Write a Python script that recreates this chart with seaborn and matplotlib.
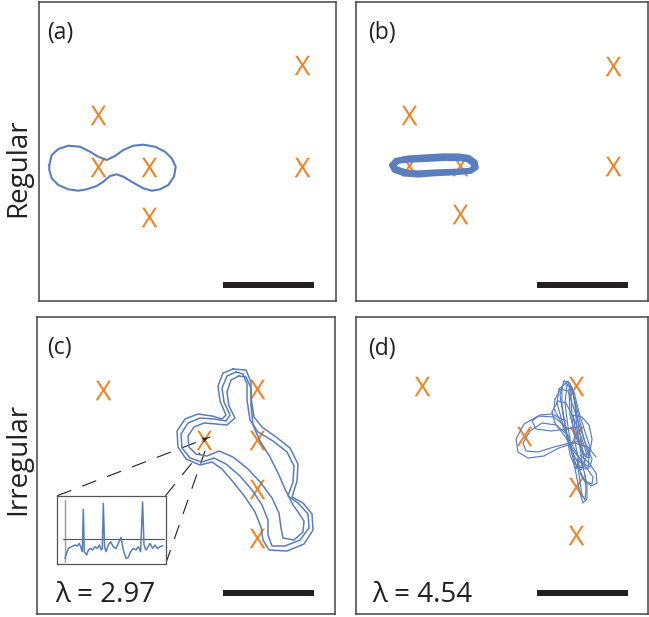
'''
orbits of a particle among fixed X sites: regular vs irregular panels
'''
import numpy as np
import pandas as pd
import seaborn as sns
import matplotlib.pyplot as plt

sns.set_theme(style='white')
plt.rcParams['font.family'] = ['Open Sans', 'DejaVu Sans']
plt.rcParams['mathtext.fontset'] = 'custom'
plt.rcParams['mathtext.sf'] = 'Open Sans'

blue = '#5A7DBE'
orange = '#F4821F'
ink = '#231F20'

# ---- data: pixel units inside each panel, y counted down from the top edge
marks_a = [(262.7, 63), (59, 113), (59, 164.7), (110, 164.7), (110, 214.7), (262.7, 164.7)]
marks_b = [(257.3, 64), (53, 113), (53, 163.7), (104, 163.7), (104, 212), (257.3, 163.7)]
marks_c = [(66.3, 73), (219.7, 72), (167.3, 123), (219.7, 123), (219.7, 172), (219.7, 220.7)]
marks_d = [(65.7, 68.7), (219.7, 68.7), (168.3, 119), (219.7, 119), (219.7, 169.7), (219.7, 218)]

orbit_a = [(10.3, 163), (12.7, 153), (19.3, 147), (29.3, 143.7), (41, 144.7), (51, 149.7),
           (59.3, 154.7), (67.7, 158), (76, 154), (84.3, 148), (94.3, 143.7), (104.3, 142.7),
           (116, 144.7), (126, 149.7), (132.7, 156.3), (136.7, 164.7), (135, 174.7), (129.3, 183),
           (121, 187.3), (112.7, 188.7), (104.3, 186.3), (94.3, 180.7), (84.3, 174.7), (77.7, 172.3),
           (71, 174), (64.3, 179.7), (57.7, 184), (47.7, 187.3), (39.3, 188.7), (29.3, 187.3),
           (19.3, 183), (12.7, 176.3), (10.3, 168), (10.3, 163)]

orbits_b = [
    [(34.5, 163), (39.5, 157.5), (52, 155), (69, 154), (85.7, 153), (102.3, 153), (113, 154.5),
     (120, 159.5), (121.3, 166), (115, 170.3), (99, 171.7), (79, 172.7), (62.3, 174), (48.5, 173),
     (37.5, 169), (34.5, 163)],
    [(36.5, 163), (41, 158.5), (52.5, 157), (69, 156.3), (85.7, 155.3), (102.3, 155.3), (112, 156.5),
     (118, 160.5), (119, 166), (114, 169), (99, 170), (79, 171), (62.3, 172), (49.5, 171),
     (39, 167.5), (36.5, 163)],
    [(38.5, 163), (43, 160), (53.5, 159), (69, 158.5), (85.7, 157.5), (102.3, 157.5), (111, 158.5),
     (116, 162), (116.8, 166), (112.5, 167.5), (99, 168.3), (79, 169), (62.3, 170), (50.5, 169),
     (41, 166), (38.5, 163)],
]

orbits_c = [
    [(199, 55), (190, 59), (185, 71), (187, 85), (193, 98), (189, 104), (177, 102), (163, 101),
     (151, 106), (144, 117), (145, 131), (153, 141), (165, 145), (177, 141), (189, 147),
     (203, 159), (215, 173), (225, 188), (231, 203), (231, 218), (235, 229), (248, 229),
     (263, 223), (272, 211), (271, 197), (261, 186), (251, 179), (256, 165), (257, 149),
     (250, 135), (236, 124), (221, 115), (213, 103), (210, 83), (210, 67), (206, 57), (199, 55)],
    [(202, 59), (194, 63), (190, 75), (192, 89), (198, 101), (190, 108), (179, 107), (167, 106),
     (157, 110), (151, 119), (152, 130), (159, 137), (170, 139), (182, 134), (196, 140),
     (211, 152), (224, 166), (235, 181), (242, 196), (244, 211), (246, 221), (257, 223),
     (266, 215), (267, 204), (261, 195), (256, 188), (248, 172), (241, 156), (233, 140),
     (223, 124), (216, 108), (214, 88), (214, 71), (209, 60), (202, 59)],
    [(196, 52), (186, 56), (181, 69), (183, 84), (189, 98), (185, 102), (175, 99), (161, 97),
     (148, 102), (140, 114), (141, 130), (149, 142), (163, 148), (175, 145), (185, 152),
     (197, 166), (208, 180), (218, 195), (224, 210), (226, 223), (232, 233), (250, 234),
     (267, 227), (276, 213), (275, 197), (266, 186), (255, 180), (260, 164), (261, 147),
     (253, 131), (239, 120), (225, 110), (217, 100), (214, 81), (214, 65), (209, 53), (196, 52)],
]

orbits_d = [
    [(208, 64), (214, 66), (218, 80), (222, 105), (226, 130), (229, 148), (225, 153), (218, 145),
     (212, 122), (207, 98), (204, 78), (208, 64)],
    [(203, 72), (210, 66), (216, 72), (221, 92), (227, 118), (233, 140), (232, 152), (224, 150),
     (214, 130), (206, 104), (201, 86), (203, 72)],
    [(211, 68), (216, 70), (219, 88), (221, 112), (225, 136), (226, 150), (221, 151), (216, 134),
     (212, 110), (209, 86), (211, 68)],
    [(199, 82), (205, 72), (212, 74), (219, 95), (229, 125), (236, 142), (234, 150), (226, 146),
     (214, 124), (204, 103), (198, 92), (199, 82)],
    [(206, 70), (212, 64), (215, 76), (216, 100), (219, 125), (223, 145), (220, 152), (214, 138),
     (210, 112), (206, 88), (206, 70)],
    [(213, 72), (218, 75), (223, 95), (229, 115), (234, 130), (233, 141), (227, 138), (220, 120),
     (214, 98), (213, 72)],
    [(196, 95), (202, 84), (210, 86), (218, 102), (226, 122), (231, 138), (228, 146), (219, 136),
     (208, 118), (199, 106), (196, 95)],
    [(212, 112), (198, 100), (182, 99), (168, 107), (160, 122), (162, 135), (172, 141), (188, 139),
     (203, 131), (218, 126), (232, 130), (240, 140)],
    [(214, 120), (200, 108), (186, 106), (174, 114), (167, 126), (170, 134), (182, 135), (198, 130),
     (214, 126), (226, 124)],
    [(210, 104), (196, 97), (184, 98), (176, 104), (180, 112), (195, 114), (210, 112), (222, 110)],
    [(224, 138), (233, 146), (240, 156), (241, 166), (235, 169), (228, 162), (223, 152), (221, 142)],
    [(220, 142), (230, 150), (237, 160), (236, 167), (229, 165), (224, 156)],
    [(218, 146), (221, 162), (224, 176), (227, 186), (231, 182), (231, 168), (228, 154), (225, 145)],
    [(222, 150), (224, 165), (226, 178), (229, 183), (230, 172), (229, 158)],
    [(217, 98), (226, 100), (233, 108), (236, 122), (234, 135), (229, 138), (223, 126), (219, 110),
     (217, 98)],
]

# inset time trace (pixels inside the inset box)
trace_t = [7.7, 11, 14.3, 17.7, 20, 22, 23.3, 25, 26, 27, 29.3, 31, 33.3, 35.3, 37.7, 40, 42, 44, 45,
           46, 47.3, 48.7, 51, 53.3, 56, 58.7, 61, 63.7, 66, 68.7, 71, 73.3, 76, 78.7, 81, 83.3,
           85.3, 86.7, 88.7, 90, 92.7, 95.3, 97.7, 100, 102.7, 105.3]
trace_v = [62.7, 52.7, 51, 49.3, 50.3, 47.7, 51, 56, 13.7, 56, 59.3, 54.3, 52.7, 54.3, 51, 52.7,
           49.3, 54.3, 52.7, 7.7, 51, 56, 49.3, 46, 51, 52.7, 47.7, 41.7, 54.3, 62.7, 61.7, 56, 52.7,
           54.3, 51, 56, 6.3, 49.3, 54.3, 52.7, 47.7, 52.7, 49.3, 52.7, 51, 50]

labels = ['(a)', '(b)', '(c)', '(d)']
lyap = {'c': 'λ = 2.97', 'd': 'λ = 4.54'}
rows = ['Regular', 'Irregular']

W, H = 649, 617
boxes = {'a': (39, 2, 336, 301), 'b': (356, 2, 648, 301),
         'c': (37, 317, 335, 614), 'd': (356, 317, 648, 614)}
bars = {'a': (183.7, 275, 283), 'b': (180.7, 271.7, 283),
        'c': (185.7, 277, 276.3), 'd': (180.7, 271.7, 276.3)}
label_pos = {'a': (7.7, 37), 'b': (11.7, 37.3), 'c': (9.7, 37.3), 'd': (12.3, 38)}
lyap_pos = {'c': (18, 284.7), 'd': (15.7, 284.7)}


def add_axes(fig, box):
    x0, y0, x1, y1 = box
    return fig.add_axes([x0 / W, 1 - y1 / H, (x1 - x0) / W, (y1 - y0) / H])


def draw_orbit(ax, pts, lw):
    df = pd.DataFrame(pts, columns=['x', 'y'])
    sns.lineplot(data=df, x='x', y='y', sort=False, estimator=None, color=blue,
                 linewidth=lw, ax=ax, solid_joinstyle='round', solid_capstyle='round', zorder=3)


def draw_marks(ax, pts):
    df = pd.DataFrame(pts, columns=['x', 'y'])
    sns.scatterplot(data=df, x='x', y='y', marker=r'$\mathsf{X}$', s=200, color=orange,
                    linewidth=0, ax=ax, zorder=2)


def finish(ax, box, spine='#444444', lw=1.1):
    x0, y0, x1, y1 = box
    ax.set_xlim(0, x1 - x0)
    ax.set_ylim(y1 - y0, 0)
    ax.set_xticks([])
    ax.set_yticks([])
    ax.set(xlabel='', ylabel='')
    for s in ax.spines.values():
        s.set_visible(True)
        s.set_color(spine)
        s.set_linewidth(lw)


fig = plt.figure(figsize=(W / 100, H / 100), dpi=100)
axes = {k: add_axes(fig, b) for k, b in boxes.items()}

draw_marks(axes['a'], marks_a)
draw_orbit(axes['a'], orbit_a, 1.5)

draw_marks(axes['b'], marks_b)
for o in orbits_b:
    draw_orbit(axes['b'], o, 2.3)

draw_marks(axes['c'], marks_c)
for o in orbits_c:
    draw_orbit(axes['c'], o, 1.1)

draw_marks(axes['d'], marks_d)
for o in orbits_d:
    draw_orbit(axes['d'], o, 0.85)

for k, ax in axes.items():
    x0, x1, y = bars[k]
    ax.plot([x0, x1], [y, y], color=ink, lw=4.3, solid_capstyle='butt')
    lx, ly = label_pos[k]
    ax.text(lx, ly, labels['abcd'.index(k)], fontsize=16.5, color=ink, ha='left', va='baseline')
    if k in lyap:
        tx, ty = lyap_pos[k]
        ax.text(tx, ty, lyap[k], fontsize=20, color=ink, ha='left', va='baseline')
    finish(ax, boxes[k])

# zoom-in lines from the inset to the orbit point in (c)
axc = axes['c']
dash = dict(color=ink, lw=0.8, ls=(0, (13.5, 10.5)))
axc.plot([20.3, 173], [178.7, 120], **dash)
axc.plot([128.5, 163], [178.7, 136], **dash)
axc.plot([128.5, 168], [247.3, 134], **dash)
axc.annotate('', xy=(173.5, 120), xytext=(163, 124),
             arrowprops=dict(arrowstyle='->', color=ink, lw=0.8, mutation_scale=7))

inset_box = (57.3, 495.7, 165.5, 564.3)
axi = add_axes(fig, inset_box)
axi.plot([7.7, 7.7], [4.3, 66], color='#9a9a9a', lw=1.0)
axi.plot([5.3, 106.7], [43.7, 43.7], color='#555555', lw=0.8)
sns.lineplot(x=trace_t, y=trace_v, sort=False, estimator=None, color=blue, linewidth=1.1, ax=axi)
finish(axi, inset_box, spine='#555555', lw=0.9)

fig.text(18.5 / W, 1 - 167.5 / H, rows[0], rotation=90, fontsize=20, color=ink, ha='center', va='center')
fig.text(18.5 / W, 1 - 459 / H, rows[1], rotation=90, fontsize=20, color=ink, ha='center', va='center')

fig.savefig('out.png', dpi=100)
